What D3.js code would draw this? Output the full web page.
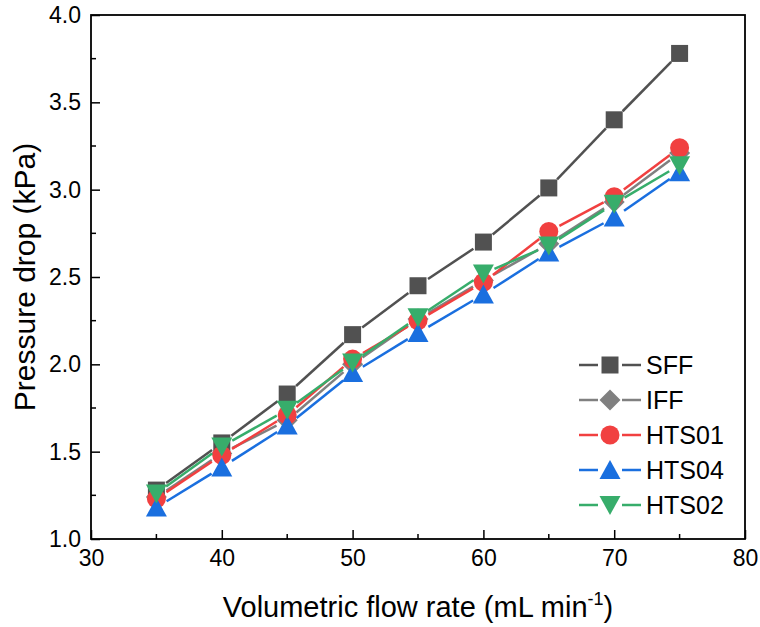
<!DOCTYPE html>
<html><head><meta charset="utf-8">
<script src="https://cdn.jsdelivr.net/npm/d3@7/dist/d3.min.js"></script>
<style>body{margin:0;background:#fff}svg{display:block}</style>
</head><body>
<svg id="c" width="760" height="627"></svg>
<script>
const flow = [35,40,45,50,55,60,65,70,75];
const SFF   = [1.28,1.55,1.83,2.17,2.45,2.70,3.01,3.40,3.78];
const IFF   = [1.24,1.49,1.68,2.00,2.26,2.48,2.69,2.93,3.21];
const HTS01 = [1.23,1.48,1.71,2.03,2.25,2.47,2.76,2.96,3.24];
const HTS04 = [1.18,1.41,1.65,1.95,2.18,2.40,2.64,2.84,3.10];
const HTS02 = [1.26,1.53,1.74,2.01,2.27,2.52,2.68,2.92,3.14];
const xTicks = [30,40,50,60,70,80];
const yTicks = [1.0,1.5,2.0,2.5,3.0,3.5,4.0];

const series = [
  {name:"SFF", vals:SFF, color:"#515151", sym:"square"},
  {name:"IFF", vals:IFF, color:"#808080", sym:"diamond"},
  {name:"HTS01", vals:HTS01, color:"#F14040", sym:"circle"},
  {name:"HTS04", vals:HTS04, color:"#1A6FDF", sym:"up"},
  {name:"HTS02", vals:HTS02, color:"#37AD6B", sym:"down"}
];

const L=91, R=745, T=15, B=539;
const svg = d3.select("#c");
const font = "Liberation Sans, Arial, sans-serif";
const x = d3.scaleLinear().domain([30,80]).range([L,R]);
const y = d3.scaleLinear().domain([1,4]).range([B,T]);

function symPath(sym){
  const s = 8.5;
  if(sym==="square") return `M${-s},${-s}H${s}V${s}H${-s}Z`;
  if(sym==="diamond"){const d=10.5;return `M0,${-d}L${d},0L0,${d}L${-d},0Z`;}
  if(sym==="up"){const w=10.5,h=9;return `M0,${-h-1}L${w},${h}L${-w},${h}Z`;}
  if(sym==="down"){const w=10.5,h=9;return `M0,${h+1}L${w},${-h}L${-w},${-h}Z`;}
  return null;
}
function drawSym(g, sym, color, cx, cy){
  if(sym==="circle"){
    g.append("circle").attr("cx",cx).attr("cy",cy).attr("r",9.5).attr("fill",color);
  } else {
    g.append("path").attr("d",symPath(sym)).attr("transform",`translate(${cx},${cy})`).attr("fill",color);
  }
}

// axes (ticks inward)
const xAxis = d3.axisBottom(x).tickValues(xTicks).tickSize(-9).tickPadding(11).tickFormat(d3.format("d"));
const gx = svg.append("g").attr("transform",`translate(0,${B})`).call(xAxis);
const yAxis = d3.axisLeft(y).tickValues(yTicks).tickSize(-9).tickPadding(10).tickFormat(d3.format(".1f"));
const gy = svg.append("g").attr("transform",`translate(${L},0)`).call(yAxis);
[gx,gy].forEach(g=>{
  g.select(".domain").remove();
  g.selectAll(".tick line").attr("stroke","#000").attr("stroke-width",1.5);
  g.selectAll(".tick text").attr("font-family",font).attr("font-size",23).attr("fill","#000");
});
// minor ticks
const gm = svg.append("g");
gm.selectAll(".mx").data([35,45,55,65,75]).enter().append("line")
  .attr("x1",d=>x(d)).attr("x2",d=>x(d)).attr("y1",B).attr("y2",B-5).attr("stroke","#000").attr("stroke-width",1.5);
gm.selectAll(".my").data([1.25,1.75,2.25,2.75,3.25,3.75]).enter().append("line")
  .attr("y1",d=>y(d)).attr("y2",d=>y(d)).attr("x1",L).attr("x2",L+5).attr("stroke","#000").attr("stroke-width",1.5);

// series
const gs = svg.append("g");
series.forEach(s=>{
  const pts = flow.map((f,i)=>[x(f), y(s.vals[i])]);
  const gap = 12;
  for(let i=0;i<pts.length-1;i++){
    const [x1,y1]=pts[i],[x2,y2]=pts[i+1];
    const dx=x2-x1, dy=y2-y1, len=Math.hypot(dx,dy);
    const ux=dx/len, uy=dy/len;
    gs.append("line").attr("x1",x1+ux*gap).attr("y1",y1+uy*gap)
      .attr("x2",x2-ux*gap).attr("y2",y2-uy*gap)
      .attr("stroke",s.color).attr("stroke-width",2.5);
  }
  pts.forEach(p=>drawSym(gs, s.sym, s.color, p[0], p[1]));
});

// frame
svg.append("rect").attr("x",L).attr("y",T).attr("width",R-L).attr("height",B-T)
  .attr("fill","none").attr("stroke","#000").attr("stroke-width",1.8);

// legend
const lg = svg.append("g");
series.forEach((s,i)=>{
  const cy = 365 + i*35;
  lg.append("line").attr("x1",579).attr("x2",598).attr("y1",cy).attr("y2",cy).attr("stroke",s.color).attr("stroke-width",2.5);
  lg.append("line").attr("x1",622).attr("x2",641).attr("y1",cy).attr("y2",cy).attr("stroke",s.color).attr("stroke-width",2.5);
  drawSym(lg, s.sym, s.color, 610, cy);
  lg.append("text").attr("x",646).attr("y",cy).attr("dy","0.36em").attr("font-family",font)
    .attr("font-size",25).attr("fill","#000").text(s.name);
});

// axis titles
const xt = svg.append("text").attr("x",(L+R)/2 - 0).attr("y",617).attr("text-anchor","middle")
  .attr("font-family",font).attr("font-size",29).attr("fill","#000");
xt.append("tspan").text("Volumetric flow rate (mL min");
xt.append("tspan").attr("font-size",18).attr("dy",-12).text("-1");
xt.append("tspan").attr("dy",12).text(")");
svg.append("text").attr("transform",`translate(35,${(T+B)/2}) rotate(-90)`).attr("text-anchor","middle")
  .attr("font-family",font).attr("font-size",30).attr("fill","#000").text("Pressure drop (kPa)");
</script>
</body></html>
